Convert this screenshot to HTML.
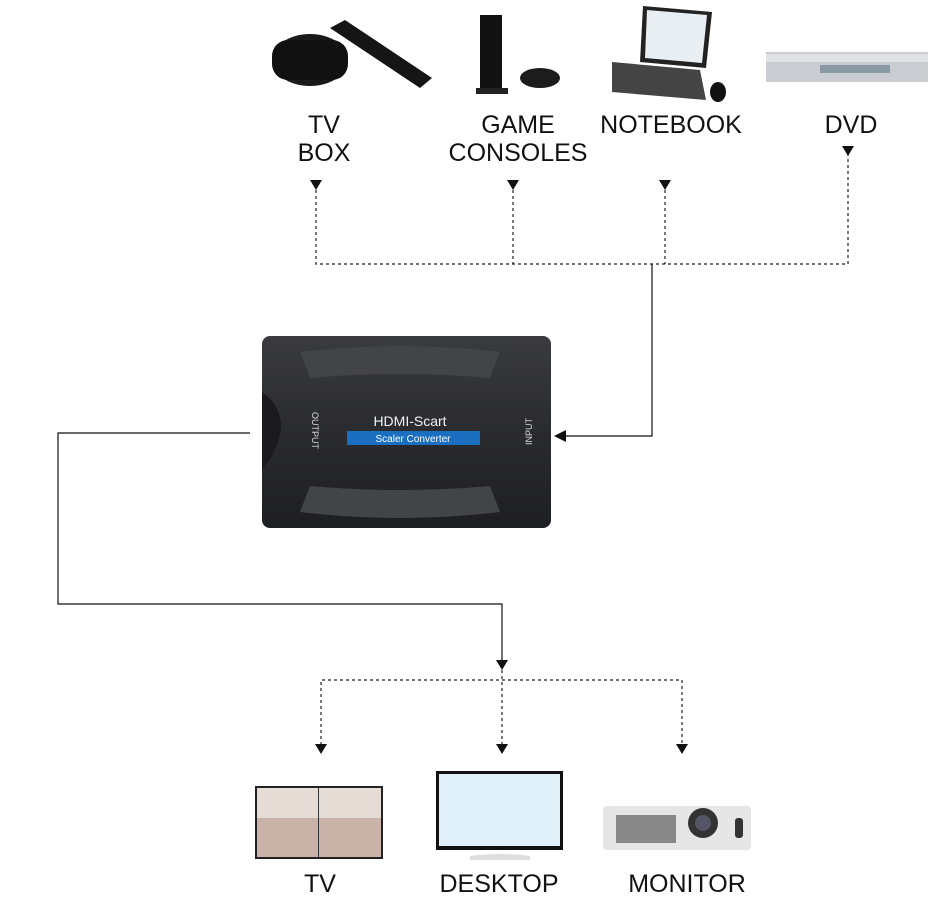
<!DOCTYPE html>
<html><head><style>
body{margin:0;background:#fff;width:932px;height:900px;overflow:hidden;position:relative;font-family:"Liberation Sans",sans-serif}
.l{position:absolute;font-size:25px;color:#111;text-align:center;line-height:28px;transform:translateX(-50%);white-space:nowrap}
</style></head><body>
<svg width="932" height="900" style="position:absolute;left:0;top:0">
<defs>
<linearGradient id="bx" x1="0" y1="0" x2="0" y2="1"><stop offset="0" stop-color="#3a3b3e"/><stop offset=".5" stop-color="#2a2b2e"/><stop offset="1" stop-color="#1e1f22"/></linearGradient>
</defs>
<!-- top devices -->
<ellipse cx="310" cy="60" rx="38" ry="26" fill="#1a1a1a"/>
<rect x="272" y="40" width="76" height="40" rx="16" fill="#111"/>
<polygon points="330,28 345,20 432,78 420,88" fill="#151515"/>
<rect x="480" y="15" width="22" height="78" fill="#111"/>
<rect x="476" y="88" width="32" height="6" fill="#222"/>
<ellipse cx="540" cy="78" rx="20" ry="10" fill="#1c1c1c"/>
<polygon points="643,6 712,12 706,68 640,62" fill="#222"/>
<polygon points="647,10 707,15 702,63 645,58" fill="#e8eef2"/>
<polygon points="612,62 700,70 706,100 612,92" fill="#444"/>
<ellipse cx="718" cy="92" rx="8" ry="10" fill="#111"/>
<rect x="766" y="52" width="162" height="30" fill="#c9ccd0"/>
<rect x="766" y="54" width="162" height="8" fill="#e0e2e5"/>
<rect x="820" y="65" width="70" height="8" fill="#8a9aa5"/>
<!-- connectors top -->
<g stroke="#222" stroke-width="1.2" fill="none" stroke-dasharray="3,3">
<path d="M316 190V264H848V150M513 190V264M665 190V264"/>
</g>
<g fill="#111">
<polygon points="310,180 322,180 316,190"/><polygon points="507,180 519,180 513,190"/>
<polygon points="659,180 671,180 665,190"/><polygon points="842,146 854,146 848,156"/>
</g>
<path d="M652 264V436H562" stroke="#111" stroke-width="1.2" fill="none"/>
<polygon points="554,436 566,430 566,442" fill="#111"/>
<!-- box -->
<rect x="262" y="336" width="289" height="192" rx="8" fill="url(#bx)"/>
<path d="M300 352 Q400 340 500 352 L490 378 Q400 370 310 378Z" fill="#434448"/>
<path d="M300 512 Q400 524 500 512 L490 486 Q400 494 310 486Z" fill="#434448"/>
<path d="M262 392 Q300 420 262 470" fill="#1a1a1c"/>
<text x="410" y="426" fill="#f2f2f2" font-size="14" text-anchor="middle" font-family="Liberation Sans">HDMI-Scart</text>
<rect x="347" y="431" width="133" height="14" fill="#1a6fc0"/>
<text x="413" y="442" fill="#fff" font-size="10" text-anchor="middle" font-family="Liberation Sans">Scaler Converter</text>
<text font-size="9" fill="#ddd" transform="translate(312,412) rotate(90)" font-family="Liberation Sans">OUTPUT</text>
<text font-size="9" fill="#ddd" transform="translate(532,445) rotate(-90)" font-family="Liberation Sans">INPUT</text>
<!-- left connector -->
<path d="M250 433H58V604H502V662" stroke="#111" stroke-width="1.2" fill="none"/>
<polygon points="496,660 508,660 502,670" fill="#111"/>
<g stroke="#222" stroke-width="1.2" fill="none" stroke-dasharray="3,3">
<path d="M321 745V680H682V745M502 670V745"/>
</g>
<g fill="#111">
<polygon points="315,744 327,744 321,754"/><polygon points="496,744 508,744 502,754"/><polygon points="676,744 688,744 682,754"/>
</g>
<!-- bottom devices -->
<rect x="255" y="786" width="128" height="73" fill="#222"/>
<rect x="257" y="788" width="124" height="69" fill="#c9b2a8"/>
<rect x="257" y="788" width="124" height="30" fill="#e6dcd6"/>
<rect x="318" y="788" width="1" height="69" fill="#333"/>
<rect x="436" y="771" width="127" height="79" fill="#111"/>
<rect x="439" y="774" width="121" height="72" fill="#e0f0f8"/>
<path d="M470 856 Q500 852 530 856 L530 860 L470 860Z" fill="#ddd"/>
<rect x="603" y="806" width="148" height="44" rx="4" fill="#e6e6e6"/>
<rect x="616" y="815" width="60" height="28" fill="#888"/>
<circle cx="703" cy="823" r="15" fill="#333"/><circle cx="703" cy="823" r="8" fill="#556"/>
<rect x="735" y="818" width="8" height="20" rx="3" fill="#333"/>
</svg>
<div class="l" style="left:324px;top:111px">TV<br>BOX</div>
<div class="l" style="left:518px;top:111px">GAME<br>CONSOLES</div>
<div class="l" style="left:671px;top:111px">NOTEBOOK</div>
<div class="l" style="left:851px;top:111px">DVD</div>
<div class="l" style="left:320px;top:870px">TV</div>
<div class="l" style="left:499px;top:870px">DESKTOP</div>
<div class="l" style="left:687px;top:870px">MONITOR</div>
</body></html>
